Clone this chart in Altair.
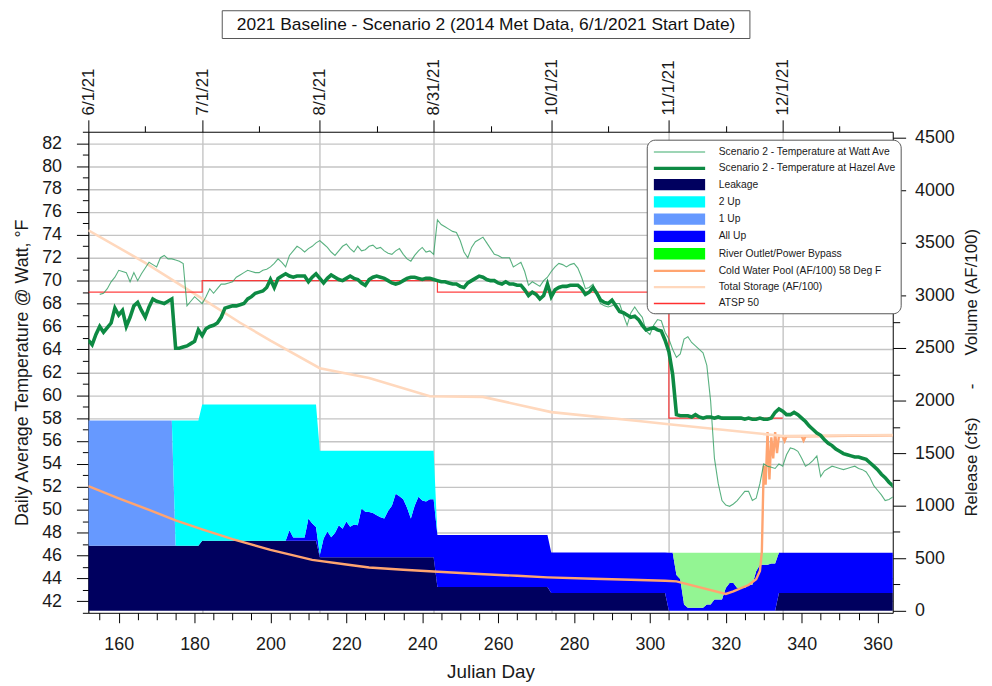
import altair as alt
import pandas as pd

FONT = "Liberation Sans"

# ---------------- data ----------------
days = list(range(152, 366))

hazel = [
    64.8, 64.4, 65.3, 66.0, 65.5, 65.9, 66.3, 67.6, 67.0, 67.4,
    66.0, 66.8, 67.8, 68.1, 67.4, 66.8, 67.7, 68.4, 68.2, 68.1,
    68.0, 68.2, 68.4, 64.1, 64.1, 64.2, 64.3, 64.5, 64.7, 65.7,
    65.2, 65.8, 66.0, 66.1, 66.3, 66.8, 67.6, 67.7, 67.8, 67.8,
    67.9, 68.0, 68.4, 68.6, 68.9, 69.0, 69.1, 69.4, 70.1, 69.4,
    70.2, 70.4, 70.6, 70.4, 70.3, 70.4, 70.4, 70.4, 69.9, 70.3,
    70.6, 70.2, 69.8, 70.2, 70.5, 70.3, 70.1, 70.0, 70.2, 70.4,
    70.2, 70.1, 69.8, 69.6, 70.1, 70.3, 70.4, 70.3, 70.2, 70.0,
    69.8, 69.7, 69.8, 70.0, 70.2, 70.3, 70.3, 70.2, 70.1, 70.2,
    70.2, 70.1, 70.0, 69.9, 69.9, 69.8, 69.7, 69.7, 69.5, 69.4,
    69.8, 70.0, 70.2, 70.4, 70.3, 70.1, 70.0, 70.0, 69.8, 69.7,
    69.9, 69.7, 69.7, 69.6, 69.6, 69.2, 68.7, 69.0, 68.8, 68.4,
    68.7, 69.7, 68.6, 69.2, 69.4, 69.5, 69.5, 69.6, 69.6, 69.6,
    69.3, 68.8, 69.0, 69.4, 68.9, 68.3, 68.1, 68.0, 68.3, 67.8,
    67.3, 67.2, 67.0, 66.8, 66.9, 66.6, 66.1, 65.7, 65.8, 65.9,
    65.7, 65.6, 64.8, 63.8, 61.8, 58.3, 58.2, 58.2, 58.2, 58.1,
    58.3, 58.1, 58.0, 58.1, 58.1, 58.0, 58.1, 58.0, 58.0, 58.0,
    58.0, 58.0, 58.0, 57.9, 58.0, 57.9, 57.9, 58.0, 57.9, 57.9,
    58.0, 58.5, 58.8, 58.6, 58.3, 58.3, 58.5, 58.3, 58.0, 57.7,
    57.3, 57.0, 56.7, 56.5, 56.1, 55.8, 55.6, 55.3, 55.1, 54.9,
    54.8, 54.7, 54.6, 54.6, 54.5, 54.4, 54.1, 53.8, 53.5, 53.1,
    52.8, 52.4, 52.1, 51.8,
]

watt_days = list(range(155, 366))
watt = [
    68.8, 68.9, 69.3, 69.9, 70.3, 70.9, 70.8, 70.7, 69.9, 70.7,
    70.0, 70.6, 71.1, 71.6, 71.4, 71.2, 72.0, 72.2, 71.9, 71.9,
    71.8, 71.7, 71.5, 67.8, 68.2, 68.6, 68.3, 68.0, 68.6, 69.3,
    68.9, 69.3, 69.7, 69.7, 69.8, 69.9, 70.3, 70.5, 70.7, 70.9,
    70.8, 70.7, 70.7, 70.9, 71.0, 71.2, 71.5, 71.9, 71.6, 71.2,
    72.2, 72.6, 73.0, 72.8, 72.5, 72.8, 73.0, 73.3, 73.5, 73.2,
    72.9, 72.5, 72.2, 72.6, 73.0, 73.2, 72.8, 72.5, 73.0, 72.6,
    72.7, 73.0, 73.1, 72.8, 72.9, 72.6, 72.4, 72.3, 72.6, 72.8,
    72.3, 71.9, 71.7, 72.2, 72.6, 72.9, 72.5, 72.6, 72.3, 75.3,
    74.9, 74.7, 74.5, 74.3, 74.2, 73.5, 72.5, 72.0, 72.9, 73.4,
    73.6, 73.8, 73.3, 72.8, 72.3, 72.2, 72.0, 72.0, 72.0, 71.2,
    71.4, 71.6, 70.8, 69.6, 69.9, 69.7, 69.5, 70.0, 70.3, 70.8,
    71.2, 71.5, 71.4, 71.2, 71.4, 71.5, 71.1, 70.3, 69.3, 69.4,
    69.7, 68.8, 68.0, 67.8, 67.7, 67.8, 68.0, 68.0, 67.0, 66.1,
    67.2, 67.7, 67.2, 66.8, 65.6, 65.3, 66.1, 66.6, 66.5, 65.5,
    64.9, 64.0, 63.3, 63.6, 64.9, 65.1, 64.6, 64.3, 64.0, 63.7,
    62.6, 59.5, 54.5, 52.3, 50.8, 50.4, 50.3, 50.5, 50.8, 51.2,
    51.6, 51.6, 50.8, 51.0, 52.3, 54.0, 53.8, 53.7, 53.6, 54.0,
    53.8, 54.8, 55.4, 55.3, 55.1, 54.5, 53.8, 54.0, 54.3, 54.7,
    52.9, 53.4, 53.6, 53.8, 53.7, 53.6, 53.5, 53.6, 53.7, 53.8,
    53.6, 53.5, 53.3, 52.8, 52.1, 51.7, 51.3, 50.8, 50.9, 51.1,
    51.0,
]

atsp_days = [152, 182, 244, 305, 335]
atsp_vals = [69, 70, 69, 58, 58]

storage_days = [152, 167, 182, 192, 200, 213, 226, 242, 256, 274, 297, 305, 335, 365]
storage_vals = [3620, 3310, 2970, 2740, 2570, 2308, 2214, 2041, 2035, 1890, 1805, 1774, 1663, 1672]

cwp_days = [152, 160, 168, 175, 182, 190, 200, 211, 220, 226, 235, 243, 255, 265,
            273, 285, 295, 304, 307, 320, 322, 324, 326, 328, 329, 329.5, 330,
            330.5, 331, 331.5, 332, 332.5, 333, 333.5, 334, 335, 335.5, 336,
            340, 340.5, 341, 365]
cwp_vals = [1186, 1070, 960, 861, 775, 682, 580, 484, 440, 412, 390, 374, 350, 333,
            318, 305, 295, 286, 280, 160, 185, 215, 245, 300, 380, 560, 1380,
            1200, 1700, 1250, 1650, 1450, 1700, 1500, 1662, 1660, 1615, 1661,
            1661, 1620, 1661, 1669]

# release components (cfs), one value per day 152..365
leakage = [620] * 30 + [667] * 31 + [509] * 31 + [226] * 30 + [170] * 31 + [0] * 29 + [170] * 32
one_up = [1191] * 23 + [0] * 191
two_up = ([0] * 23 + [1191] * 7 + [1295] * 23
          + [1195, 1264, 1264, 1264, 1264, 1085, 1132, 1165]
          + [991, 833, 767, 822, 782, 708, 742, 673, 722, 702, 708, 550, 579, 582, 592, 614,
             632, 645, 572, 522, 409, 432, 462, 542, 645, 522, 437, 472, 482, 462, 462]
          + [0] * 122)
all_up = ([0] * 53 + [100, 31, 31, 31, 31, 210, 163, 130]
          + [22, 180, 246, 191, 231, 305, 271, 340, 291, 311, 305, 463, 434, 431, 421, 399,
             381, 368, 441, 491, 604, 581, 551, 471, 368, 491, 576, 541, 531, 551, 551]
          + [494] * 30 + [384] * 31 + [553, 553]
          + [340, 300, 60, 28, 28, 28, 28, 28, 60, 60, 107, 107, 107, 217, 264, 264, 217,
             217, 217, 248, 248, 377, 437, 437, 437, 450, 450]
          + [383] * 32)
river = ([0] * 155
         + [213, 253, 493, 525, 525, 525, 525, 525, 493, 493, 446, 446, 446, 336, 289, 289,
            336, 336, 336, 305, 305, 176, 116, 116, 116, 103, 103]
         + [0] * 32)

area_names = ["Leakage", "All Up", "River Outlet/Power Bypass", "1 Up", "2 Up"]
area_colors = ["#00005f", "#0000ff", "#93f593", "#6699ff", "#00ffff"]

legend_names = [
    "Scenario 2 - Temperature at Watt Ave",
    "Scenario 2 - Temperature at Hazel Ave",
    "Leakage", "2 Up", "1 Up", "All Up", "River Outlet/Power Bypass",
    "Cold Water Pool (AF/100) 58 Deg F",
    "Total Storage (AF/100)",
    "ATSP 50",
]
legend_colors = ["#7cc79c", "#0d8a43", "#00005f", "#00ffff", "#6699ff", "#0000ff",
                 "#00ff00", "#ffa470", "#ffd8bd", "#ff3030"]
legend_kinds = ["thin", "thick", "box", "box", "box", "box", "box", "mid", "mid", "thin"]

date_days = [152, 182, 213, 243, 274, 305, 335]
date_labels = ["6/1/21", "7/1/21", "8/1/21", "8/31/21", "10/1/21", "11/1/21", "12/1/21"]
minor_days = [167, 197, 228, 258, 289, 320, 350]

title_text = "2021 Baseline - Scenario 2 (2014 Met Data, 6/1/2021 Start Date)"

# ---------------- tables ----------------
comp = {"Leakage": leakage, "All Up": all_up, "River Outlet/Power Bypass": river,
        "1 Up": one_up, "2 Up": two_up}
rel_rows = []
for k, name in enumerate(area_names):
    for d, v in zip(days, comp[name]):
        rel_rows.append({"day": d, "series": name, "value": v, "k": k})
rel_df = pd.DataFrame(rel_rows)

hazel_df = pd.DataFrame({"day": days, "t": hazel})
watt_df = pd.DataFrame({"day": watt_days, "t": watt})
atsp_df = pd.DataFrame({"day": atsp_days, "t": atsp_vals})
stor_df = pd.DataFrame({"day": storage_days, "v": storage_vals})
cwp_df = pd.DataFrame({"day": cwp_days, "v": cwp_vals})
leg_df = pd.DataFrame({"series": legend_names, "day": 200, "t": 60})
deco_df = pd.DataFrame({"label": [title_text]})

half = {"thin": 0.085, "thick": 0.19, "mid": 0.13, "box": 0.68}
legend_shapes = [f"M-3.04,-{half[k]}H3.04V{half[k]}H-3.04Z" for k in legend_kinds]

# ---------------- scales & axes ----------------
x_scale = alt.Scale(domain=[152, 364], nice=False, zero=False)
temp_scale = alt.Scale(domain=[41, 83], nice=False, zero=False)
vol_scale = alt.Scale(domain=[-19, 4557], nice=False, zero=False)


def cond(test, a, b):
    return {"condition": {"test": test, "value": a}, "value": b}


major_test = "indexof(" + str(date_days) + ", datum.value) >= 0"
date_expr = " : ".join(f"datum.value == {d} ? '{l}'" for d, l in zip(date_days, date_labels)) + " : ''"

bottom_axis = alt.Axis(
    orient="bottom", values=list(range(155, 365, 5)), format="d",
    labelExpr="datum.value % 20 === 0 ? datum.label : ''",
    tickSize=cond("datum.value % 20 === 0", 10, 7),
    labelPadding=13, labelFontSize=18, labelOverlap=False, labelFlush=False,
    grid=False, title="Julian Day", titleFontSize=19, titlePadding=9,
)
top_axis = alt.Axis(
    orient="top", values=sorted(date_days + minor_days),
    labelExpr=date_expr, tickSize=cond(major_test, 12, 6),
    labelAngle=270, labelAlign="left", labelBaseline="middle",
    labelPadding=5, labelFontSize=17, labelOverlap=False, labelFlush=False,
    grid=True, gridColor="#c4c4c4", gridWidth=1.4, gridOpacity=cond(major_test, 1, 0),
    title=None,
)
left_axis = alt.Axis(
    orient="left", values=list(range(41, 84)), format="d",
    labelExpr="datum.value % 2 === 0 ? datum.label : ''",
    tickSize=cond("datum.value % 2 === 0", 12, 6),
    labelPadding=15, labelFontSize=18, labelOverlap=False, labelFlush=False,
    grid=True, gridColor="#c4c4c4", gridWidth=1.4,
    gridOpacity=cond("datum.value % 2 === 0", 1, 0),
    title="Daily Average Temperature @ Watt, \u00b0F", titleFontSize=18, titlePadding=10,
)
nb = "\u00a0" * 6
right_axis = alt.Axis(
    orient="right", values=list(range(0, 4501, 250)), format="d",
    labelExpr="datum.value % 500 === 0 ? datum.label : ''",
    tickSize=cond("datum.value % 500 === 0", 13, 7),
    labelPadding=9, labelFontSize=18, labelOverlap=False, labelFlush=False,
    grid=False, title="Release (cfs)" + nb + "-" + nb + "Volume (AF/100)",
    titleFontSize=17, titleAngle=270, titleBaseline="top", titlePadding=9,
)

xb = alt.X("day:Q", scale=x_scale, axis=bottom_axis)
xt = alt.X("day:Q", scale=x_scale, axis=top_axis)

# ---------------- volume / release layer ----------------
areas = alt.Chart(rel_df).mark_area(clip=True).encode(
    x=xb,
    y=alt.Y("value:Q", stack="zero", scale=vol_scale, axis=right_axis),
    color=alt.Color("series:N", scale=alt.Scale(domain=area_names, range=area_colors), legend=None),
    order=alt.Order("k:Q", sort="ascending"),
)
cwp = alt.Chart(cwp_df).mark_line(color="#ffa470", strokeWidth=2.4, clip=True).encode(
    x=xb, y=alt.Y("v:Q", scale=vol_scale, axis=right_axis))
stor = alt.Chart(stor_df).mark_line(color="#ffd8bd", strokeWidth=2.6, clip=True).encode(
    x=xb, y=alt.Y("v:Q", scale=vol_scale, axis=right_axis))
vol_layer = alt.layer(areas, cwp, stor)

# ---------------- temperature layer ----------------
yt = alt.Y("t:Q", scale=temp_scale, axis=left_axis)
atsp = alt.Chart(atsp_df).mark_line(color="#ff2020", strokeWidth=1.2, opacity=0.85,
                                    interpolate="step-after", clip=True).encode(x=xt, y=yt)
watt_line = alt.Chart(watt_df).mark_line(color="#2f9e60", strokeWidth=1.1, opacity=0.8,
                                         clip=True).encode(x=xt, y=yt)
hazel_line = alt.Chart(hazel_df).mark_line(color="#0d8a43", strokeWidth=3.6,
                                           clip=True).encode(x=xt, y=yt)

leg = alt.Legend(
    title=None, orient="none", legendX=563, legendY=8, direction="vertical",
    symbolSize=289, symbolStrokeWidth=0, symbolOpacity=1, symbolOffset=20.5,
    labelOffset=31, labelFont=FONT, labelFontSize=10.4, labelColor="#1a1a1a",
    labelLimit=400, rowPadding=2.4, padding=4, fillColor="white",
    strokeColor="#555555", cornerRadius=8, zindex=1,
)
legend_pts = alt.Chart(leg_df).transform_filter("false").mark_point(
    filled=True, opacity=1, size=289).encode(
    x=xt, y=yt,
    fill=alt.Fill("series:N", scale=alt.Scale(domain=legend_names, range=legend_colors), legend=leg),
    shape=alt.Shape("series:N", scale=alt.Scale(domain=legend_names, range=legend_shapes), legend=leg),
)
temp_layer = alt.layer(atsp, watt_line, hazel_line, legend_pts)

# ---------------- title box ----------------
box = alt.Chart(deco_df).mark_rect(fill="white", stroke="#555555", strokeWidth=1).encode(
    x=alt.value(135), x2=alt.value(667), y=alt.value(-122), y2=alt.value(-94))
ttl = alt.Chart(deco_df).mark_text(font=FONT, fontSize=17.5, color="#111111",
                                   align="center", baseline="middle").encode(
    x=alt.value(401), y=alt.value(-108), text="label:N")

chart = alt.layer(vol_layer, temp_layer, box, ttl).resolve_scale(
    y="independent").resolve_axis(x="independent", y="independent").properties(
    width=811, height=485,
    autosize=alt.AutoSizeParams(type="none"),
    padding={"left": 81, "top": 122, "right": 92, "bottom": 67},
).configure_axis(
    labelFont=FONT, titleFont=FONT, labelColor="#1a1a1a", titleColor="#1a1a1a",
    domainColor="#000000", tickColor="#000000", titleFontWeight="normal",
    domainWidth=1, tickWidth=1,
).configure_view(strokeWidth=0)

chart.save("out.html", embed_options={"renderer": "svg", "actions": False})
